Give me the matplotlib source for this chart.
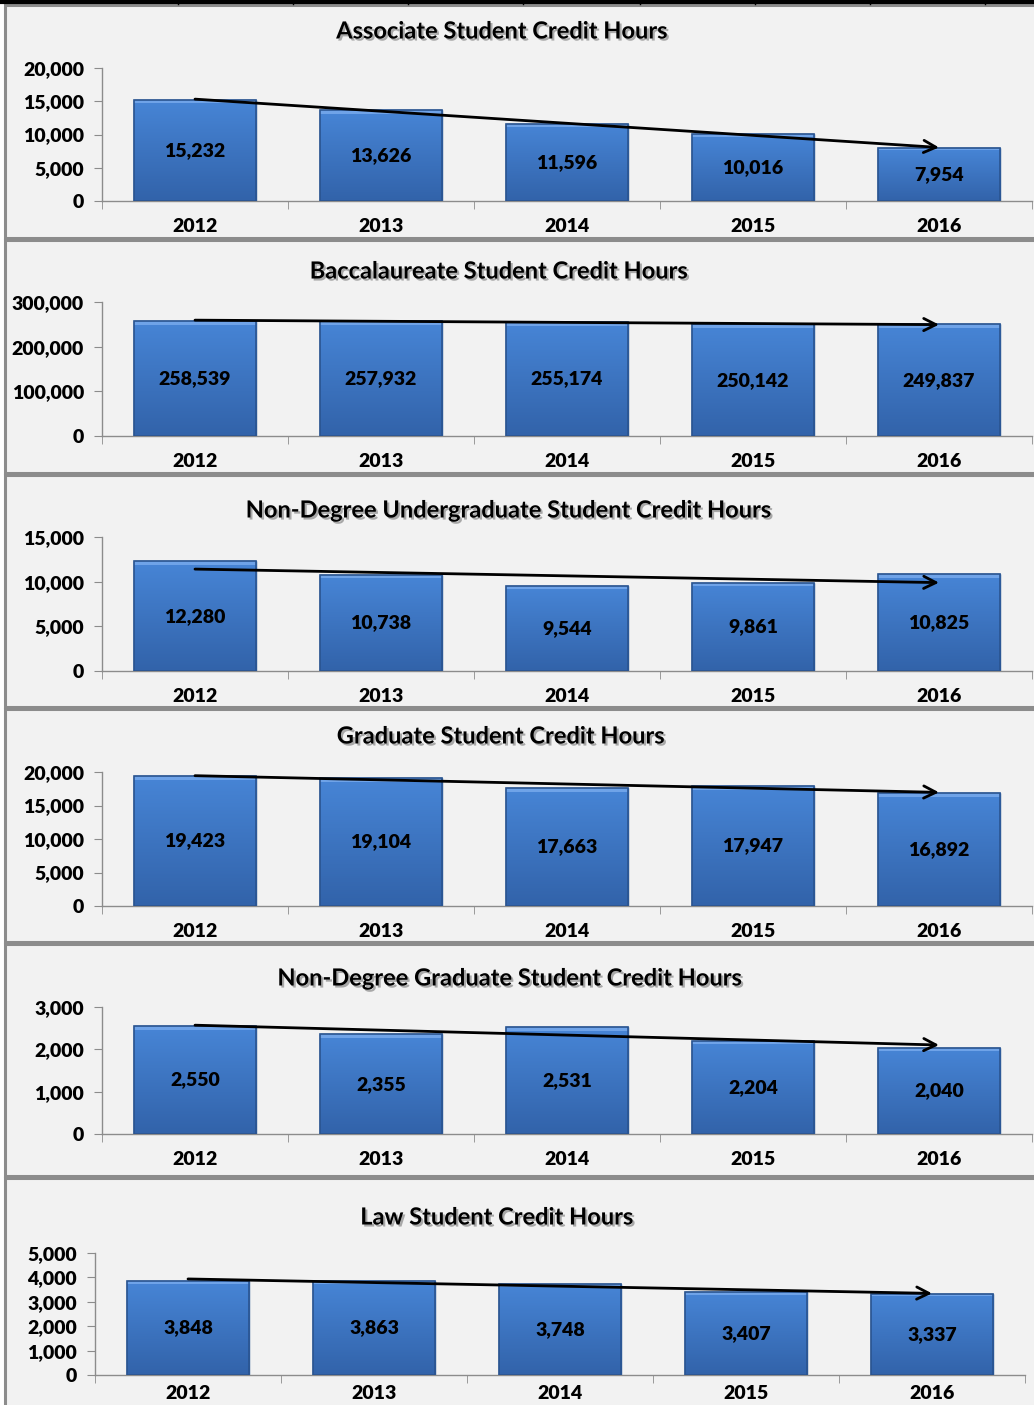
import numpy as np
import matplotlib
matplotlib.use('Agg')
import matplotlib.pyplot as plt
import matplotlib.patheffects as pe
from matplotlib.patches import Rectangle
from matplotlib.lines import Line2D
from matplotlib.ticker import FuncFormatter, MultipleLocator, FixedLocator

plt.rcParams['font.family'] = ['Lato', 'DejaVu Sans']
plt.rcParams['font.weight'] = 'heavy'

years = ['2012', '2013', '2014', '2015', '2016']

titles = [
    'Associate Student Credit Hours',
    'Baccalaureate Student Credit Hours',
    'Non-Degree Undergraduate Student Credit Hours',
    'Graduate Student Credit Hours',
    'Non-Degree Graduate Student Credit Hours',
    'Law Student Credit Hours',
]
associate = [15232, 13626, 11596, 10016, 7954]
baccalaureate = [258539, 257932, 255174, 250142, 249837]
nondeg_ugrad = [12280, 10738, 9544, 9861, 10825]
graduate = [19423, 19104, 17663, 17947, 16892]
nondeg_grad = [2550, 2355, 2531, 2204, 2040]
law = [3848, 3863, 3748, 3407, 3337]
series = [associate, baccalaureate, nondeg_ugrad, graduate, nondeg_grad, law]
ymax = [20000, 300000, 15000, 20000, 3000, 5000]
ystep = [5000, 100000, 5000, 5000, 1000, 1000]

W, H = 1034, 1405
fig = plt.figure(figsize=(W / 100, H / 100), dpi=100)
fig.patch.set_facecolor('white')

# panel layout in pixels: (box top, box bottom, title x, title y, axis top, axis zero, axis left, year pad)
panels = [
    (5, 238, 502, 31, 68, 201, 102, 12),
    (240, 473, 499, 271, 302, 436, 102, 12),
    (475, 707, 509, 510, 537, 671, 102, 12),
    (709, 942, 501, 736, 772, 906, 102, 12),
    (944, 1176, 510, 978, 1007, 1134, 102, 12),
    (1178, 1410, 497, 1217, 1253, 1375, 95, 7),
]
axis_w = 930


def fx(px):
    return px / W


def fy(py):
    return 1 - py / H


grad = np.linspace(0, 1, 64).reshape(-1, 1)
cmap = matplotlib.colors.LinearSegmentedColormap.from_list('bar', ['#4785d6', '#3263aa'])

for i, (top, bot, tx, ty, atop, azero, ax0, ypad) in enumerate(panels):
    # panel box
    fig.add_artist(Rectangle((fx(5), fy(bot)), fx(W + 10), (bot - top) / H,
                             facecolor='#f2f2f2', edgecolor='#8c8c8c', lw=2.2, zorder=-5))
    fig.text(fx(tx), fy(ty), titles[i],
             ha='center', va='center', fontsize=17, fontweight='bold',
             path_effects=[pe.SimplePatchShadow(offset=(1.5, -1.5), shadow_rgbFace='#777777', alpha=0.6),
                           pe.Normal()])

    ax = fig.add_axes([fx(ax0), fy(azero), axis_w / W, (azero - atop) / H])
    ax.set_facecolor('none')
    vals = series[i]
    x = np.arange(len(years))
    bars = ax.bar(x, vals, width=0.66, color='#3c74c2', edgecolor='#2a5490', lw=1.0, zorder=2)
    for b in bars:
        x0, y0 = b.get_x(), b.get_y()
        im = ax.imshow(grad, cmap=cmap, aspect='auto', zorder=2.5,
                       extent=[x0, x0 + b.get_width(), y0, y0 + b.get_height()])
        im.set_clip_path(b)
        # bevel highlight along the top
        ax.add_patch(Rectangle((x0, b.get_height() * 0.965), b.get_width(), b.get_height() * 0.035,
                               facecolor='#6fa3e8', edgecolor='none', zorder=2.6))
        ax.add_patch(Rectangle((x0, y0), b.get_width(), b.get_height(),
                               facecolor='none', edgecolor='#2a5490', lw=1.2, zorder=2.7))
    for xi, v in zip(x, vals):
        ax.text(xi, v / 2, f'{v:,}', ha='center', va='center', fontsize=14,
                fontweight='heavy', zorder=4)

    # linear trend line with arrow
    slope, icpt = np.polyfit(x, vals, 1)
    ax.annotate('', xy=(x[-1], slope * x[-1] + icpt), xytext=(x[0], slope * x[0] + icpt),
                arrowprops=dict(arrowstyle='->', lw=2, color='black', mutation_scale=22,
                                shrinkA=0, shrinkB=0), zorder=5)

    ax.set_xlim(-0.5, 4.5)
    ax.set_ylim(0, ymax[i])
    ax.yaxis.set_major_locator(MultipleLocator(ystep[i]))
    ax.yaxis.set_major_formatter(FuncFormatter(lambda v, p: f'{int(v):,}'))
    ax.set_xticks(x)
    ax.set_xticklabels(years)
    ax.xaxis.set_minor_locator(FixedLocator(np.arange(-0.5, 5, 1)))
    ax.tick_params(axis='x', which='major', length=0, pad=ypad, labelsize=14)
    ax.tick_params(axis='x', which='minor', length=6, color='#8c8c8c', direction='out')
    ax.tick_params(axis='y', length=6, color='#8c8c8c', labelsize=14, pad=7)
    for s in ['top', 'right']:
        ax.spines[s].set_visible(False)
    for s in ['left', 'bottom']:
        ax.spines[s].set_color('#8c8c8c')
        ax.spines[s].set_linewidth(1)

# black rule at very top with small marks
fig.add_artist(Line2D([0, 1], [fy(1.5), fy(1.5)], color='black', lw=3))
for mx in [178, 293, 408, 523, 640, 755, 870, 985]:
    fig.add_artist(Line2D([fx(mx), fx(mx)], [fy(0), fy(4)], color='black', lw=1))

fig.savefig('out.png', dpi=100, facecolor=fig.get_facecolor())
